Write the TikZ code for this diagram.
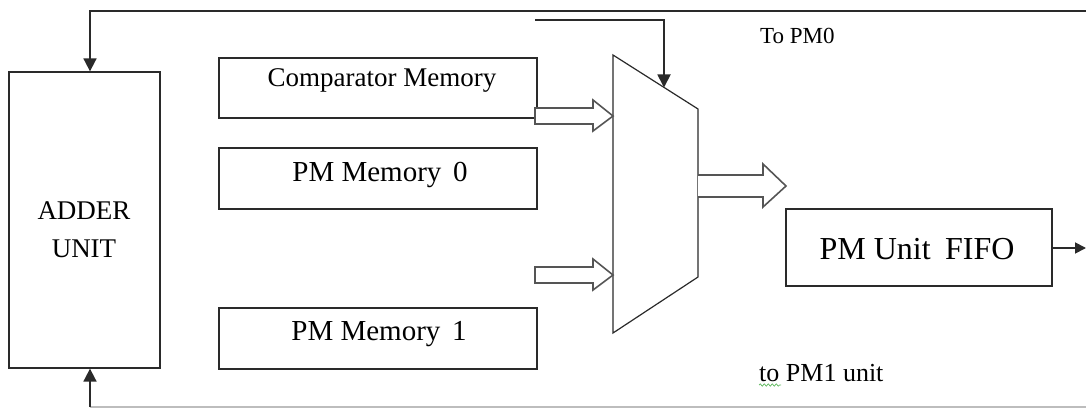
\documentclass[tikz,border=0pt]{standalone}
\usepackage{fontspec}
\setmainfont{Liberation Serif}
\usetikzlibrary{arrows.meta,decorations.pathmorphing}
\definecolor{ink}{HTML}{2A2A2A}
\definecolor{hollow}{HTML}{555555}
\definecolor{lightwire}{HTML}{BDBDBD}
\definecolor{squiggle}{HTML}{5FB85F}
\begin{document}
\begin{tikzpicture}[x=1pt,y=-1pt,
  blk/.style={draw=ink,line width=1.3pt,inner sep=0pt,fill=none},
  lbl/.style={inner sep=0pt,anchor=base,text=black},
  wire/.style={draw=ink,line width=1.8pt,-{Triangle[length=13pt,width=13pt]}},
  hol/.style={draw=hollow,line width=1.6pt,line join=miter,fill=white},
]
\useasboundingbox (0,0) rectangle (1086,409);

% blocks
\node[blk,minimum width=151pt,minimum height=296pt] (adder) at (84.5,220) {};
\node[blk,minimum width=318pt,minimum height=60pt] (cmp) at (378,88) {};
\node[blk,minimum width=318pt,minimum height=61pt] (pm0) at (378,178.5) {};
\node[blk,minimum width=318pt,minimum height=61pt] (pm1) at (378,338.5) {};
\node[blk,minimum width=266pt,minimum height=77pt] (fifo) at (919,247.5) {};

% texts
\node[lbl,font=\fontsize{27}{30}\selectfont] (tadd1) at (84,219) {ADDER};
\node[lbl,font=\fontsize{27}{30}\selectfont] (tadd2) at (84,257) {UNIT};
\node[lbl,font=\fontsize{27}{30}\selectfont] (tcmp) at (382,87) {Comparator Memory};
\node[lbl,font=\fontsize{29}{32}\selectfont] (tpm0) at (380,181) {PM Memory\hspace{0.4em}0};
\node[lbl,font=\fontsize{29}{32}\selectfont] (tpm1) at (379,340) {PM Memory\hspace{0.4em}1};
\node[lbl,font=\fontsize{32}{36}\selectfont] (tfifo) at (917,259) {PM Unit\hspace{0.45em}FIFO};
\node[lbl,anchor=base west,font=\fontsize{23}{27}\selectfont] (tpm0lbl) at (760,44) {To PM0};
\node[lbl,anchor=base west,font=\fontsize{26}{30}\selectfont] (tpm1lbl) at (759,381) {to PM1 unit};
\draw[squiggle,line width=0.7pt,decorate,decoration={snake,amplitude=1.2pt,segment length=4pt}]
  ([yshift=-4pt]tpm1lbl.base west) -- ++(22,0);

% multiplexer
\coordinate (mtl) at (613,55);
\coordinate (mtr) at (698,109);
\coordinate (mbr) at (698,277);
\coordinate (mbl) at (613,333);
\draw[ink,line width=1.2pt,line join=miter] (mtl) -- (mtr) -- (mbr) -- (mbl) -- cycle;

% hollow bus arrows
\draw[hol] (535,108) -- (593,108) -- (593,100) -- (613,116) -- (593,131) -- (593,124) -- (535,124) -- cycle;
\draw[hol] (535,267) -- (593,267) -- (593,259) -- (613,275) -- (593,290) -- (593,283) -- (535,283) -- cycle;
\draw[hol] (698,175) -- (763,175) -- (763,164) -- (786,186) -- (763,207) -- (763,197) -- (698,197);

% wires
\coordinate (topR) at (1086,11);
\coordinate (topL) at (90,11);
\draw[wire] (topR) -- (topL) -- (adder.north -| topL);

\coordinate (selS) at (535,20);
\coordinate (selC) at (664,20);
\coordinate (selT) at (664,87.5);
\draw[wire] (selS) -- (selC) -- (selT);

\coordinate (botR) at (1086,407);
\coordinate (botL) at (90,407);
\draw[lightwire,line width=1.6pt] (botR) -- (botL);
\draw[wire] (botL) -- (adder.south -| botL);

\coordinate (outE) at (1086,248);
\draw[draw=ink,line width=1.8pt,-{Triangle[length=11pt,width=11pt]}] (fifo.east |- outE) -- (outE);
\end{tikzpicture}
\end{document}
